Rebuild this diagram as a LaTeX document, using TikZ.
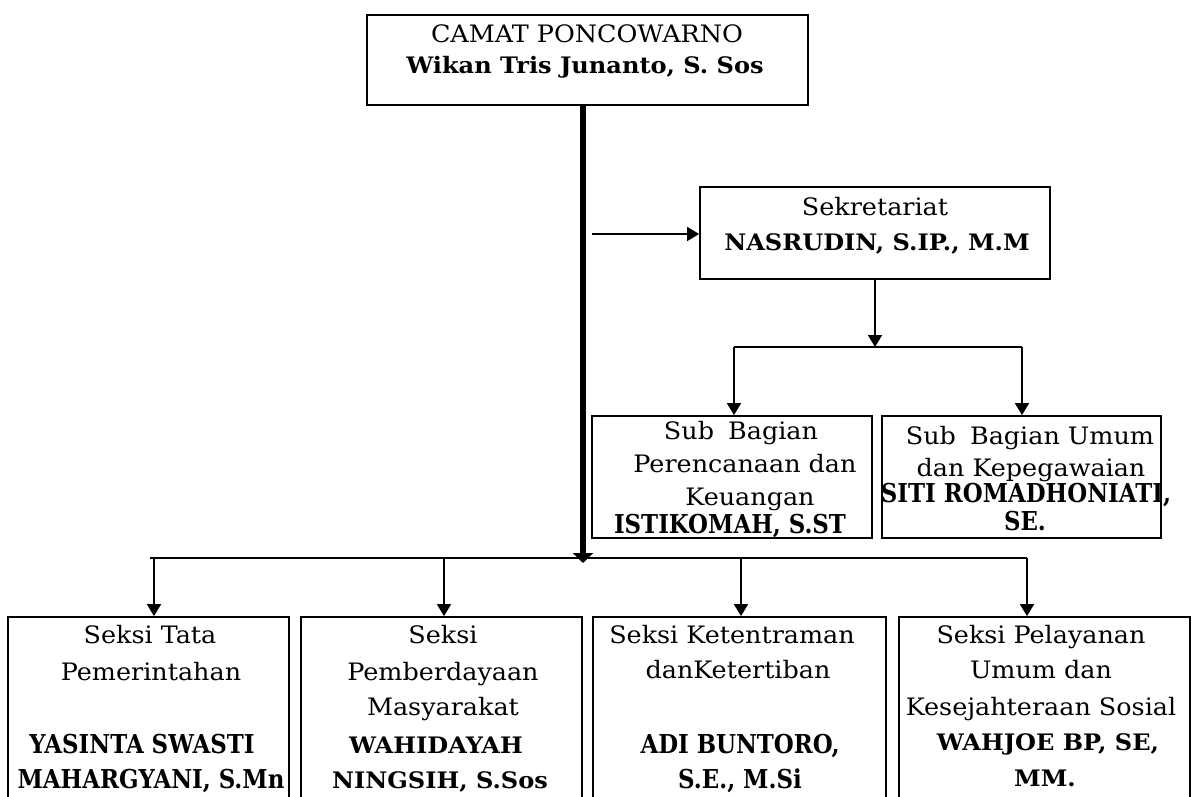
\documentclass[tikz,border=0pt]{standalone}
\usepackage{fontspec}
\setmainfont{DejaVu Serif}[FakeStretch=1.06]
\newfontfamily\condf{DejaVu Serif}[FakeStretch=0.88]
\usetikzlibrary{arrows.meta}
\begin{document}
\begin{tikzpicture}[x=1pt,y=-1pt,
  box/.style={draw, line width=1.8pt, inner sep=0pt},
  tx/.style={anchor=base, inner sep=0pt, font=\fontsize{24}{28}\selectfont},
  nb/.style={anchor=base, inner sep=0pt, font=\fontsize{22.7}{28}\selectfont\bfseries},
  nc/.style={anchor=base, inner sep=0pt, font=\fontsize{26}{28}\selectfont\condf\bfseries},
  conn/.style={line width=1.8pt},
  arr/.style={line width=1.8pt, -{Triangle[length=12pt,width=14pt]}},
  mainarr/.style={line width=5.5pt, -{Triangle[length=10pt,width=20pt]}}]
\fill[white] (0,0) rectangle (1195,796);
\useasboundingbox (0,0) rectangle (1195,796);
\clip (0,0) rectangle (1195,796);

% boxes
\node[box, minimum width=441pt, minimum height=90pt] (top) at (587.5,60) {};
\node[box, minimum width=350pt, minimum height=92pt] (sek) at (875,233) {};
\node[box, minimum width=280pt, minimum height=122pt] (sub1) at (732,477) {};
\node[box, minimum width=279pt, minimum height=122pt] (sub2) at (1021.5,477) {};
\node[box, minimum width=281pt, minimum height=200pt] (bA) at (148.5,717) {};
\node[box, minimum width=281pt, minimum height=200pt] (bB) at (441.5,717) {};
\node[box, minimum width=293pt, minimum height=200pt] (bC) at (739.5,717) {};
\node[box, minimum width=291pt, minimum height=200pt] (bD) at (1044.5,717) {};

% texts
\node[tx] (t1) at (587,42) {CAMAT PONCOWARNO};
\node[nb] (t2) at (585,73) {Wikan Tris Junanto, S. Sos};
\node[tx] (s1) at (875,215) {Sekretariat};
\node[nb] (s2) at (877,250) {NASRUDIN, S.IP., M.M};
\node[tx] (u1) at (741,439) {Sub\hspace{0.25em} Bagian};
\node[tx] (u2) at (745,472) {Perencanaan dan};
\node[tx] (u3) at (750,505) {Keuangan};
\node[nc] (u4) at (730,533) {ISTIKOMAH, S.ST};
\node[tx] (v1) at (1030,444) {Sub\hspace{0.25em} Bagian Umum};
\node[tx] (v2) at (1031,476) {dan Kepegawaian};
\node[nc] (v3) at (1026,502) {SITI ROMADHONIATI,};
\node[nc] (v4) at (1025,530) {SE.};
\node[tx] (a1) at (150,643) {Seksi Tata};
\node[tx] (a2) at (151,680) {Pemerintahan};
\node[nc] (a3) at (142,753) {YASINTA SWASTI};
\node[nc] (a4) at (151,788) {MAHARGYANI, S.Mn};
\node[tx] (b1) at (443,643) {Seksi};
\node[tx] (b2) at (443,680) {Pemberdayaan};
\node[tx] (b3) at (443,715) {Masyarakat};
\node[nb] (b4) at (436,753) {WAHIDAYAH};
\node[nb] (b5) at (440,788) {NINGSIH, S.Sos};
\node[tx] (c1) at (732,643) {Seksi Ketentraman};
\node[tx] (c2) at (738,678) {danKetertiban};
\node[nc] (c3) at (740,753) {ADI BUNTORO,};
\node[nc] (c4) at (740,788) {S.E., M.Si};
\node[tx] (d1) at (1041,643) {Seksi Pelayanan};
\node[tx] (d2) at (1041,678) {Umum dan};
\node[tx] (d3) at (1041,715) {Kesejahteraan Sosial};
\node[nb] (d4) at (1048,750) {WAHJOE BP, SE,};
\node[nb] (d5) at (1045,786) {MM.};

% connector points
\coordinate (mbot) at (583,563);
\coordinate (s0) at (592,234);
\coordinate (jn) at (875,347);
\coordinate (j1) at (734,347);
\coordinate (j2) at (1022,347);
\coordinate (h1) at (150,558);
\coordinate (h2) at (1027,558);
\coordinate (pA) at (154,558);
\coordinate (pB) at (444,558);
\coordinate (pC) at (741,558);
\coordinate (pD) at (1027,558);

% connectors
\draw[mainarr] (top.south -| mbot) -- (mbot);
\draw[arr] (s0) -- (sek.west |- s0);
\draw[arr] (sek.south -| jn) -- (jn);
\draw[conn] (j1) -- (j2);
\draw[arr] (j1) -- (j1 |- sub1.north);
\draw[arr] (j2) -- (j2 |- sub2.north);
\draw[conn] (h1) -- (h2);
\draw[arr] (pA) -- (pA |- bA.north);
\draw[arr] (pB) -- (pB |- bB.north);
\draw[arr] (pC) -- (pC |- bC.north);
\draw[arr] (pD) -- (pD |- bD.north);
\end{tikzpicture}
\end{document}
